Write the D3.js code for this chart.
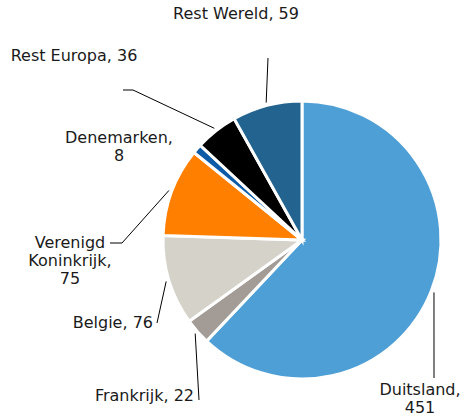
<!DOCTYPE html>
<html>
<head>
<meta charset="utf-8">
<script src="https://cdn.jsdelivr.net/npm/d3@7"></script>
<style>
  body { margin: 0; background: #fff; }
  text { font-family: "DejaVu Sans", Verdana, sans-serif; font-size: 16px; fill: #1a1a1a; }
</style>
</head>
<body>
<div id="viz"></div>
<script>
// data
const countries = ["Duitsland", "Frankrijk", "Belgie", "Verenigd Koninkrijk", "Denemarken", "Rest Europa", "Rest Wereld"];
const values = [451, 22, 76, 75, 8, 36, 59];
const colors = ["#4f9fd7", "#a39b95", "#d5d2ca", "#ff7f00", "#0d5aa6", "#000000", "#22638f"];
// label lines (text split as shown)
const labelLines = [
  ["Duitsland,", "451"],
  ["Frankrijk, 22"],
  ["Belgie, 76"],
  ["Verenigd", "Koninkrijk,", "75"],
  ["Denemarken,", "8"],
  ["Rest Europa, 36"],
  ["Rest Wereld, 59"]
];

const width = 464, height = 418;
const cx = 302, cy = 240, radius = 139;

// label layout: text anchor position + leader line end / elbow
const layout = {
  "Duitsland":           { x: 420, y: 395, anchor: "middle", lead: [[434, 378]] },
  "Frankrijk":           { x: 194, y: 401, anchor: "end",    lead: [[199, 400]] },
  "Belgie":              { x: 153, y: 328, anchor: "end",    lead: [[157, 323]] },
  "Verenigd Koninkrijk": { x: 70,  y: 248, anchor: "middle", lead: [[122, 243], [110, 243]] },
  "Denemarken":          { x: 119, y: 143, anchor: "middle", lead: null },
  "Rest Europa":         { x: 74,  y: 61,  anchor: "middle", lead: [[133, 90], [123, 90]] },
  "Rest Wereld":         { x: 236, y: 19,  anchor: "middle", lead: [[268, 58]] }
};

const svg = d3.select("#viz").append("svg")
  .attr("width", width)
  .attr("height", height);

const pie = d3.pie().sort(null).value(d => d.value);
const arcs = pie(countries.map((c, i) => ({ name: c, value: values[i], color: colors[i], lines: labelLines[i] })));

const arc = d3.arc().innerRadius(0).outerRadius(radius);
const leadArc = d3.arc().innerRadius(142).outerRadius(142);

const g = svg.append("g").attr("transform", `translate(${cx},${cy})`);

g.selectAll("path")
  .data(arcs)
  .enter()
  .append("path")
  .attr("d", arc)
  .attr("fill", d => d.data.color)
  .attr("stroke", "#fff")
  .attr("stroke-width", 3)
  .attr("stroke-linejoin", "miter");

// leader lines
const line = d3.line();
arcs.forEach(d => {
  const lay = layout[d.data.name];
  if (!lay.lead) return;
  const c = leadArc.centroid(d);
  const pts = [[c[0] + cx, c[1] + cy]].concat(lay.lead);
  svg.append("path")
    .attr("d", line(pts))
    .attr("fill", "none")
    .attr("stroke", "#000")
    .attr("stroke-width", 1);
});

// labels
arcs.forEach(d => {
  const lay = layout[d.data.name];
  const t = svg.append("text")
    .attr("x", lay.x)
    .attr("y", lay.y)
    .attr("text-anchor", lay.anchor);
  d.data.lines.forEach((s, i) => {
    t.append("tspan")
      .attr("x", lay.x)
      .attr("dy", i === 0 ? 0 : 18)
      .text(s);
  });
});
</script>
</body>
</html>
